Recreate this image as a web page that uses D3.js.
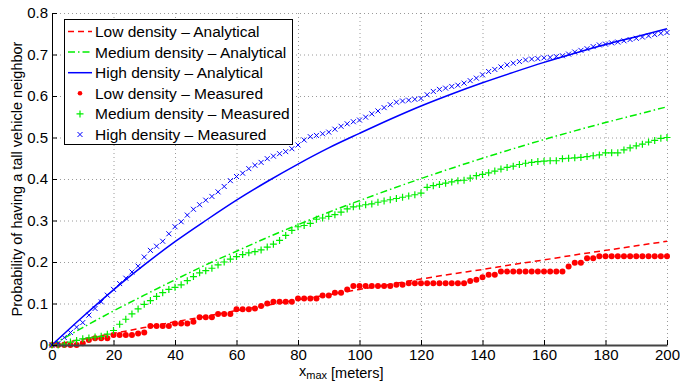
<!DOCTYPE html>
<html>
<head>
<meta charset="utf-8">
<script src="https://cdn.jsdelivr.net/npm/d3@7/dist/d3.min.js"></script>
<style>
  body { margin: 0; background: #fff; }
  svg { display: block; font-family: "Liberation Sans", Arial, Helvetica, sans-serif; }
  .grid line { stroke: #9a9a9a; stroke-dasharray: 1,3; stroke-width: 1; }
  .grid path { display: none; }
  .axis text { font-size: 15px; fill: #000; }
</style>
</head>
<body>
<div id="chart"></div>
<script>
// analytical curves, sampled every 10 m
let xAnalytical = [0,10,20,30,40,50,60,70,80,90,100,110,120,130,140,150,160,170,180,190,200];
let lowAnalytical = [0,0.014,0.028,0.042,0.056,0.069,0.083,0.096,0.109,0.121,0.134,0.146,0.159,0.171,0.182,0.194,0.205,0.217,0.228,0.239,0.25];
let mediumAnalytical = [0,0.042,0.082,0.12,0.157,0.193,0.226,0.259,0.29,0.32,0.348,0.375,0.401,0.426,0.45,0.473,0.495,0.516,0.536,0.555,0.574];
let highAnalytical = [0,0.068,0.133,0.193,0.249,0.30,0.349,0.394,0.436,0.475,0.51,0.544,0.576,0.605,0.632,0.657,0.681,0.703,0.724,0.743,0.762];

// measured values, every 2 m (0..200)
let xMeasured = d3.range(0, 201, 2);
let lowMeasured = [0,0,0,0,0,0.004,0.012,0.016,0.016,0.016,
  0.024,0.024,0.024,0.024,0.028,0.03,0.046,0.046,0.046,0.046,
  0.052,0.052,0.052,0.056,0.067,0.067,0.067,0.075,0.075,0.075,
  0.086,0.086,0.086,0.088,0.094,0.1,0.104,0.104,0.104,0.104,
  0.112,0.112,0.112,0.112,0.119,0.119,0.126,0.126,0.134,0.142,
  0.142,0.142,0.142,0.142,0.142,0.142,0.145,0.145,0.149,0.149,
  0.149,0.149,0.149,0.149,0.149,0.149,0.149,0.149,0.154,0.157,
  0.163,0.169,0.169,0.177,0.177,0.177,0.177,0.177,0.177,0.177,
  0.177,0.177,0.177,0.177,0.189,0.198,0.198,0.209,0.209,0.214,
  0.214,0.214,0.214,0.214,0.214,0.214,0.214,0.214,0.214,0.214,0.214];
let mediumMeasured = [0,0,0.002,0.007,0.011,0.015,0.017,0.019,0.021,0.026,
  0.035,0.05,0.062,0.075,0.087,0.098,0.107,0.117,0.126,0.134,
  0.139,0.145,0.155,0.165,0.174,0.179,0.185,0.193,0.2,0.207,
  0.213,0.218,0.222,0.225,0.229,0.236,0.243,0.252,0.264,0.276,
  0.285,0.288,0.293,0.303,0.306,0.31,0.314,0.32,0.328,0.333,
  0.335,0.338,0.34,0.344,0.347,0.35,0.353,0.356,0.359,0.362,
  0.366,0.38,0.384,0.387,0.39,0.393,0.396,0.397,0.402,0.408,
  0.411,0.415,0.419,0.424,0.428,0.431,0.435,0.438,0.44,0.442,
  0.443,0.444,0.444,0.449,0.45,0.451,0.452,0.454,0.456,0.458,
  0.463,0.463,0.463,0.47,0.475,0.48,0.484,0.489,0.493,0.498,0.5];
let highMeasured = [0,0.004,0.018,0.03,0.043,0.054,0.072,0.088,0.104,0.12,
  0.134,0.148,0.161,0.176,0.19,0.212,0.228,0.238,0.25,0.268,
  0.285,0.297,0.313,0.327,0.338,0.349,0.358,0.369,0.382,0.396,
  0.406,0.414,0.425,0.433,0.44,0.449,0.455,0.461,0.466,0.473,
  0.482,0.494,0.502,0.505,0.509,0.513,0.52,0.527,0.533,0.538,
  0.542,0.549,0.557,0.564,0.572,0.579,0.585,0.588,0.59,0.592,
  0.594,0.603,0.611,0.616,0.619,0.623,0.626,0.631,0.637,0.643,
  0.651,0.659,0.664,0.67,0.675,0.679,0.683,0.687,0.689,0.69,
  0.692,0.693,0.695,0.697,0.701,0.706,0.71,0.714,0.719,0.723,
  0.725,0.728,0.73,0.733,0.736,0.739,0.742,0.745,0.748,0.751,0.753];

let xTicks = [0,20,40,60,80,100,120,140,160,180,200];
let yTicks = [0,0.1,0.2,0.3,0.4,0.5,0.6,0.7,0.8];
let legendLabels = ['Low density \u2013 Analytical','Medium density \u2013 Analytical','High density \u2013 Analytical',
  'Low density \u2013 Measured','Medium density \u2013 Measured','High density \u2013 Measured'];

let w = 680, h = 381;
let margin = {left: 52, right: 13, top: 13, bottom: 36};
let svg = d3.select('#chart').append('svg').attr('width', w).attr('height', h);

let x = d3.scaleLinear().domain([0, 200]).range([margin.left, w - margin.right]);
let y = d3.scaleLinear().domain([0, 0.8]).range([h - margin.bottom, margin.top]);

//grid
svg.append('g').classed('grid', true)
  .attr('transform', `translate(0,${margin.top})`)
  .call(d3.axisBottom(x).tickValues(xTicks).tickSize(h - margin.bottom - margin.top).tickFormat(''));
svg.append('g').classed('grid', true)
  .attr('transform', `translate(${margin.left},0)`)
  .call(d3.axisRight(y).tickValues(yTicks).tickSize(w - margin.right - margin.left).tickFormat(''));

let line = d3.line().x(d => x(d[0])).y(d => y(d[1])).curve(d3.curveMonotoneX);
let zip = (xs, ys) => xs.map((v, i) => [v, ys[i]]);

let styles = [
  {color: '#ff0000', dash: '6,4'},
  {color: '#00ee00', dash: '7,3,1.5,3'},
  {color: '#0000ff', dash: null}
];
[lowAnalytical, mediumAnalytical, highAnalytical].forEach((s, i) => {
  svg.append('path')
    .datum(zip(xAnalytical, s))
    .attr('d', line)
    .attr('fill', 'none')
    .attr('stroke', styles[i].color)
    .attr('stroke-width', 1.5)
    .attr('stroke-dasharray', styles[i].dash);
});

// markers
function dot(g, cx, cy, c, r) {
  g.append('circle').attr('cx', cx).attr('cy', cy).attr('r', r || 3).attr('fill', c);
}
function plus(g, cx, cy, c) {
  g.append('path').attr('d', `M${cx-3.5},${cy}H${cx+3.5}M${cx},${cy-3.5}V${cy+3.5}`)
    .attr('stroke', c).attr('stroke-width', 1.2).attr('fill', 'none');
}
function cross(g, cx, cy, c) {
  g.append('path').attr('d', `M${cx-2.5},${cy-2.5}L${cx+2.5},${cy+2.5}M${cx-2.5},${cy+2.5}L${cx+2.5},${cy-2.5}`)
    .attr('stroke', c).attr('stroke-width', 1).attr('fill', 'none');
}
let markers = [dot, plus, cross];
let measured = [lowMeasured, mediumMeasured, highMeasured];
let mcolors = ['#ff0000', '#00ee00', '#0000ff'];
measured.forEach((s, i) => {
  let g = svg.append('g');
  s.forEach((v, j) => markers[i](g, x(xMeasured[j]), y(v), mcolors[i]));
});

//axes
let xAxis = svg.append('g').classed('axis', true)
  .attr('transform', `translate(0,${h - margin.bottom})`)
  .call(d3.axisBottom(x).tickValues(xTicks).tickSizeInner(-5).tickSizeOuter(0).tickPadding(4));
let yAxis = svg.append('g').classed('axis', true)
  .attr('transform', `translate(${margin.left},0)`)
  .call(d3.axisLeft(y).tickValues(yTicks).tickSizeInner(-5).tickSizeOuter(0).tickPadding(4)
    .tickFormat(d => d === 0 ? '0' : d.toFixed(1)));
xAxis.select('.domain').attr('stroke', '#444').attr('stroke-width', 1.8);
svg.selectAll('.axis text').attr('font-family', null);
svg.selectAll('.axis .tick line').attr('stroke', '#000');

//axis labels
let xl = svg.append('text').attr('x', 299).attr('y', 376).style('font-size', '14.5px');
xl.append('tspan').text('x');
xl.append('tspan').attr('dy', 3).style('font-size', '11px').text('max');
xl.append('tspan').attr('dy', -1).text(' [meters]');

svg.append('text')
  .attr('transform', `translate(17,${(margin.top + h - margin.bottom) / 2}) rotate(-90)`)
  .attr('text-anchor', 'middle')
  .attr('dy', '0.35em')
  .style('font-size', '14.5px')
  .text('Probability of having a tall vehicle neighbor');

//legend
let legend = svg.append('g');
legend.append('rect').attr('x', 64.5).attr('y', 19.5).attr('width', 228).attr('height', 125)
  .attr('fill', '#fff').attr('stroke', '#000').attr('stroke-width', 1);
legendLabels.forEach((t, i) => {
  let cy = 31.5 + i * 20.6;
  if (i < 3) {
    legend.append('line').attr('x1', 68).attr('x2', 92).attr('y1', cy).attr('y2', cy)
      .attr('stroke', styles[i].color).attr('stroke-width', 1.5).attr('stroke-dasharray', styles[i].dash);
  } else if (i === 3) {
    dot(legend, 80, cy, mcolors[0], 2.3);
  } else {
    markers[i - 3](legend, 80, cy, mcolors[i - 3]);
  }
  legend.append('text').attr('x', 95).attr('y', cy).attr('dy', '0.35em')
    .style('font-size', '15.5px').text(t);
});
</script>
</body>
</html>
